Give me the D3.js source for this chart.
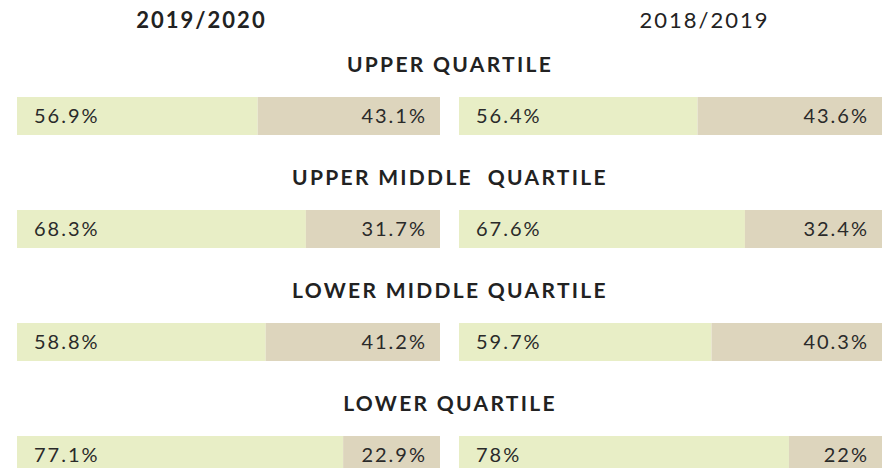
<!DOCTYPE html>
<html>
<head>
<meta charset="utf-8">
<script src="https://cdn.jsdelivr.net/npm/d3@7"></script>
<style>
  body { margin: 0; background: #fff; }
  svg { display: block; font-family: Lato, "Open Sans", sans-serif; }
  .year { font-size: 22px; fill: #222; letter-spacing: 2px; }
  .quartile { font-size: 21px; font-weight: 700; fill: #222; letter-spacing: 2.3px; white-space: pre; }
  .val { font-size: 20px; fill: #2a2a2a; letter-spacing: 2px; }
</style>
</head>
<body>
<script>
const years = ["2019/2020", "2018/2019"]
const quartiles = ["UPPER QUARTILE", "UPPER MIDDLE  QUARTILE", "LOWER MIDDLE QUARTILE", "LOWER QUARTILE"]
const share2020 = [56.9, 68.3, 58.8, 77.1]
const rest2020 = [43.1, 31.7, 41.2, 22.9]
const share2019 = [56.4, 67.6, 59.7, 78]
const rest2019 = [43.6, 32.4, 40.3, 22]

const width = 890, height = 468
const colors = ["#e8eec6", "#ddd5bd"]

const svg = d3.select("body").append("svg")
    .attr("width", width)
    .attr("height", height)

// columns: one per year
const col = d3.scaleBand()
    .domain(years)
    .range([17, 882])
    .paddingInner(0.043)

// rows: one per quartile
const row = d3.scaleBand()
    .domain(quartiles)
    .range([97, 97 + 113 * quartiles.length])

const x = d3.scaleLinear()
    .domain([0, 100])
    .range([0, col.bandwidth()])

const barH = 38

// year headers
svg.selectAll(".year")
    .data(years)
  .enter().append("text")
    .attr("class", "year")
    .attr("x", (d, i) => col(d) + col.bandwidth() / 2 + (i == 0 ? -27 : 34))
    .attr("y", 28)
    .attr("text-anchor", "middle")
    .style("font-weight", (d, i) => i == 0 ? 700 : 400)
    .text(d => d)

// quartile titles
svg.selectAll(".quartile")
    .data(quartiles)
  .enter().append("text")
    .attr("class", "quartile")
    .attr("x", width / 2 + 5)
    .attr("y", d => row(d) - 25)
    .attr("text-anchor", "middle")
    .text(d => d)

const series = [
  {year: years[0], a: share2020, b: rest2020},
  {year: years[1], a: share2019, b: rest2019}
]

series.forEach(s => {
  const rows = quartiles.map((q, i) => ({q: q, a: s.a[i], b: s.b[i]}))
  const g = svg.append("g")
      .attr("transform", "translate(" + col(s.year) + ",0)")

  // first part
  g.selectAll(".bar-a")
      .data(rows)
    .enter().append("rect")
      .attr("x", 0)
      .attr("y", d => row(d.q))
      .attr("width", d => x(d.a))
      .attr("height", barH)
      .attr("fill", colors[0])

  // second part
  g.selectAll(".bar-b")
      .data(rows)
    .enter().append("rect")
      .attr("x", d => x(d.a))
      .attr("y", d => row(d.q))
      .attr("width", d => x(d.b))
      .attr("height", barH)
      .attr("fill", colors[1])

  g.selectAll(".lab-a")
      .data(rows)
    .enter().append("text")
      .attr("class", "val")
      .attr("x", 17)
      .attr("y", d => row(d.q) + barH / 2 + 7)
      .text(d => d.a + "%")

  g.selectAll(".lab-b")
      .data(rows)
    .enter().append("text")
      .attr("class", "val")
      .attr("x", x(100) - 13)
      .attr("y", d => row(d.q) + barH / 2 + 7)
      .attr("text-anchor", "end")
      .text(d => d.b + "%")
})
</script>
</body>
</html>
